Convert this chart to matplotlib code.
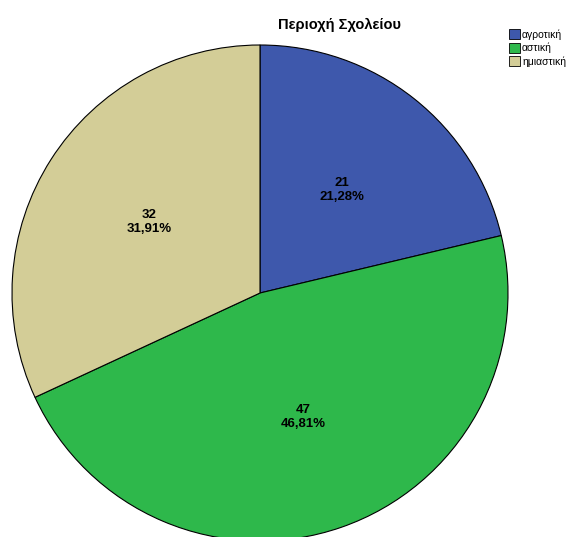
import matplotlib
matplotlib.use("Agg")
import matplotlib.pyplot as plt
from matplotlib.patches import Patch
import numpy as np

plt.rcParams['font.family'] = ['Liberation Sans', 'DejaVu Sans']

categories = ['αγροτική', 'αστική', 'ημιαστική']
counts = [21, 47, 32]
percents = [21.28, 46.81, 31.91]
colors = ['#3e58ac', '#2eb84b', '#d3cd97']
title = 'Περιοχή Σχολείου'

labels = ['{}\n{}%'.format(n, ('%.2f' % p).replace('.', ','))
          for n, p in zip(counts, percents)]

fig = plt.figure(figsize=(5.72, 5.37), dpi=100)
ax = fig.add_axes([0, 0, 1, 1])
ax.axis('off')

# pie centre at (260, 293) px, radius 248 px
r = 248.0
cx, cy = 260.0, 293.0
wedges, _ = ax.pie(percents, colors=colors, startangle=90, counterclock=False,
                   radius=1.0,
                   wedgeprops=dict(edgecolor='black', linewidth=0.8))
ax.set_aspect('auto')
ax.set_xlim(-cx / r, (572 - cx) / r)
ax.set_ylim(-(537 - cy) / r, cy / r)

# value labels at 52% of the radius along each wedge's middle angle
for w, lab in zip(wedges, labels):
    ang = np.deg2rad((w.theta1 + w.theta2) / 2.0)
    ax.text(0.53 * np.cos(ang), 0.53 * np.sin(ang), lab, ha='center',
            va='center', fontsize=9.5, fontweight='bold', linespacing=1.2)

fig.text(340 / 572, 1 - 25 / 537, title, ha='center', va='center',
         fontsize=10.5, fontweight='bold')

handles = [Patch(facecolor=c, edgecolor='black', linewidth=0.6) for c in colors]
fig.legend(handles, categories, loc='upper left',
           bbox_to_anchor=(509 / 572, 1 - 29 / 537), frameon=False,
           fontsize=7.5, handlelength=1.1, handleheight=1.1,
           handletextpad=0.15, labelspacing=0.3, borderpad=0, borderaxespad=0)

fig.savefig('out.png', dpi=100)
